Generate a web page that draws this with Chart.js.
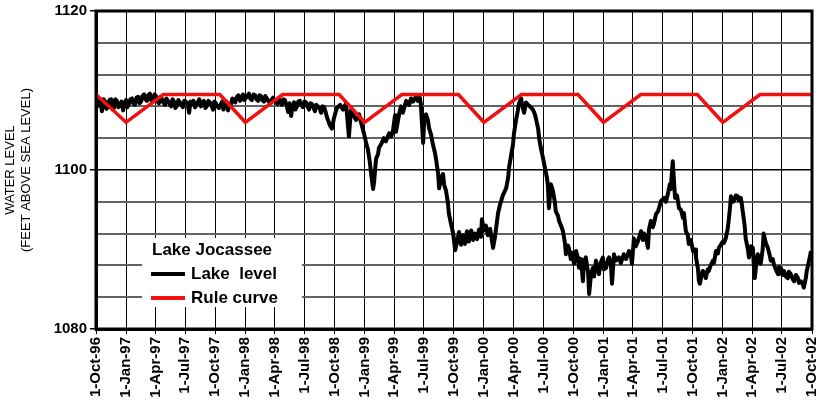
<!DOCTYPE html>
<html>
<head>
<meta charset="utf-8">
<script src="https://cdn.jsdelivr.net/npm/chart.js@4"></script>
<style>
  body { margin: 0; background: #fff; }
  #wrap { width: 824px; height: 406px; }
</style>
</head>
<body>
<div id="wrap"><canvas id="myChart"></canvas></div>
<script>
// x values are days counted from 1-Oct-96
const tickLabels = ['1-Oct-96', '1-Jan-97', '1-Apr-97', '1-Jul-97', '1-Oct-97', '1-Jan-98', '1-Apr-98', '1-Jul-98',
  '1-Oct-98', '1-Jan-99', '1-Apr-99', '1-Jul-99', '1-Oct-99', '1-Jan-00', '1-Apr-00', '1-Jul-00',
  '1-Oct-00', '1-Jan-01', '1-Apr-01', '1-Jul-01', '1-Oct-01', '1-Jan-02', '1-Apr-02', '1-Jul-02', '1-Oct-02']

const ruleDay = [0, 92, 206, 379, 457, 571, 744, 822, 936, 1109, 1187, 1302, 1475, 1553, 1667, 1840, 1918, 2032, 2191]
const ruleFt = [1109.5, 1106, 1109.5, 1109.5, 1106, 1109.5, 1109.5, 1106, 1109.5, 1109.5, 1106, 1109.5, 1109.5, 1106, 1109.5, 1109.5, 1106, 1109.5, 1109.5]

const levelDay = [0, 4, 9, 13, 18, 23, 28, 32, 37, 41, 46, 50, 55, 59, 64, 68, 73, 78, 83, 87,
  92, 96, 101, 105, 110, 114, 119, 124, 129, 133, 138, 142, 147, 151, 156, 160, 165, 169, 174, 179,
  184, 188, 193, 197, 202, 206, 211, 215, 220, 225, 230, 234, 239, 243, 248, 252, 257, 261, 266, 270,
  275, 280, 285, 289, 294, 298, 303, 307, 312, 316, 321, 325, 330, 335, 340, 344, 349, 353, 358, 362,
  367, 371, 376, 381, 386, 390, 395, 399, 404, 408, 413, 417, 422, 426, 431, 436, 441, 445, 450, 454,
  459, 463, 468, 472, 477, 482, 487, 491, 496, 500, 505, 509, 514, 518, 523, 527, 532, 537, 542, 546,
  551, 555, 560, 564, 569, 573, 578, 583, 588, 592, 597, 601, 606, 610, 615, 619, 624, 628, 633, 638,
  643, 647, 652, 656, 661, 665, 670, 674, 679, 684, 689, 693, 698, 702, 707, 716, 722,
  728, 737, 747, 756, 765, 774, 780, 789, 796, 805, 811, 820, 826, 832, 838, 841, 848, 851, 857, 863,
  866, 872, 881, 887, 897, 903, 909, 915, 918, 924, 930, 933, 939, 949, 958, 964, 970, 979, 985, 991,
  994, 1001, 1004, 1010, 1016, 1019, 1025, 1031, 1037, 1040, 1047, 1050, 1056, 1062, 1065, 1071, 1077, 1080, 1086, 1093,
  1099, 1105, 1111, 1117, 1123, 1129, 1135, 1141, 1148, 1154, 1160, 1166, 1172, 1178, 1181, 1187, 1193, 1199, 1206, 1212,
  1215, 1221, 1227, 1230, 1236, 1239, 1245, 1255, 1261, 1264, 1270, 1276, 1279, 1285, 1291, 1294, 1301, 1304, 1310, 1316,
  1322, 1328, 1337, 1343, 1346, 1353, 1356, 1362, 1368, 1374, 1380, 1383, 1386, 1392, 1398, 1404, 1407, 1414, 1417, 1423,
  1429, 1435, 1438, 1444, 1447, 1453, 1456, 1463, 1469, 1475, 1478, 1484, 1490, 1493, 1499, 1506, 1509, 1515, 1521, 1524,
  1530, 1536, 1539, 1545, 1551, 1554, 1561, 1567, 1570, 1576, 1579, 1585, 1591, 1600, 1606, 1615, 1622, 1631, 1637, 1640,
  1646, 1652, 1658, 1668, 1674, 1677, 1683, 1689, 1692, 1698, 1704, 1707, 1714, 1720, 1729, 1738, 1744, 1750, 1756, 1759,
  1762, 1765, 1768, 1772, 1778, 1784, 1790, 1796, 1799, 1805, 1811, 1814, 1820, 1827, 1833, 1836, 1842, 1845, 1848, 1854,
  1857, 1863, 1866, 1872, 1875, 1881, 1888, 1891, 1897, 1903, 1906, 1912, 1918, 1921, 1927, 1933, 1936, 1940, 1943, 1949,
  1952, 1958, 1964, 1967, 1973, 1976, 1979, 1985, 1988, 1995, 1998, 2004, 2010, 2013, 2016, 2022, 2025, 2031, 2034, 2040,
  2043, 2050, 2056, 2062, 2065, 2071, 2074, 2080, 2087, 2090, 2096, 2102, 2105, 2111, 2117, 2120, 2126, 2133, 2136, 2142,
  2148, 2151, 2157, 2163, 2166, 2172, 2175, 2182, 2188]

const levelFt = [1108.9, 1108.0, 1108.2, 1108.8, 1107.4, 1108.9, 1108.6, 1107.7, 1108.0, 1108.8, 1108.9, 1108.1, 1107.8, 1108.9, 1108.7, 1107.9, 1108.1, 1108.6, 1107.5, 1108.4,
  1108.8, 1107.9, 1108.3, 1108.9, 1109.0, 1108.4, 1108.2, 1109.1, 1109.2, 1108.4, 1108.6, 1109.3, 1109.5, 1108.9, 1108.7, 1109.4, 1109.6, 1108.8, 1108.9, 1109.5,
  1109.3, 1108.6, 1108.4, 1109.2, 1108.9, 1108.5, 1108.2, 1109.0, 1108.7, 1108.3, 1108.0, 1108.9, 1108.6, 1107.8, 1108.1, 1108.8, 1108.5, 1108.2, 1107.9, 1108.7,
  1108.6, 1108.4, 1107.2, 1108.6, 1108.3, 1108.7, 1107.9, 1108.2, 1108.6, 1108.9, 1108.0, 1108.4, 1108.7, 1107.8, 1108.1, 1108.7, 1108.5, 1108.2, 1107.6, 1108.6,
  1108.4, 1108.0, 1107.8, 1108.2, 1108.6, 1107.6, 1108.2, 1108.6, 1107.5, 1108.1, 1108.3, 1109.0, 1108.8, 1108.5, 1109.2, 1109.4, 1108.7, 1109.0, 1109.5, 1108.8,
  1109.1, 1109.3, 1109.6, 1109.0, 1108.8, 1109.5, 1109.4, 1108.9, 1108.7, 1109.4, 1109.3, 1108.8, 1108.6, 1109.3, 1109.0, 1108.7, 1108.4, 1108.8, 1109.1, 1108.7,
  1108.5, 1108.3, 1108.9, 1108.6, 1108.2, 1108.9, 1108.8, 1108.2, 1107.3, 1108.4, 1106.8, 1107.9, 1108.5, 1107.6, 1108.0, 1108.6, 1108.7, 1108.2, 1107.9, 1108.6,
  1108.5, 1108.0, 1107.6, 1108.4, 1108.3, 1107.9, 1107.4, 1108.2, 1108.0, 1107.8, 1107.2, 1108.0, 1107.9, 1107.4, 1106.6, 1105.6, 1105.2,
  1106.5, 1107.8, 1108.2, 1107.6, 1108.4, 1104.2, 1107.5, 1106.8, 1106.3, 1107.0, 1106.0, 1104.6, 1103.5, 1102.6, 1101.0, 1099.8, 1097.6, 1098.5, 1101.4, 1102.0,
  1102.8, 1103.2, 1104.0, 1103.6, 1104.6, 1104.2, 1105.0, 1106.9, 1104.8, 1106.2, 1107.5, 1108.0, 1107.2, 1108.7, 1108.2, 1109.0, 1108.6, 1109.2, 1108.7, 1109.1,
  1108.3, 1103.4, 1106.0, 1107.0, 1106.2, 1105.3, 1104.5, 1103.2, 1102.2, 1101.5, 1099.5, 1097.7, 1099.0, 1099.5, 1098.2, 1097.4, 1095.8, 1094.5, 1093.3, 1092.0,
  1089.9, 1091.0, 1092.2, 1090.6, 1091.8, 1090.7, 1092.3, 1091.0, 1092.4, 1091.2, 1092.0, 1091.3, 1092.5, 1091.6, 1093.8, 1092.4, 1093.0, 1091.8, 1092.6, 1091.0,
  1090.2, 1091.6, 1093.5, 1094.5, 1095.6, 1096.0, 1096.8, 1097.7, 1099.0, 1100.3, 1101.8, 1103.2, 1104.6, 1106.2, 1107.5, 1108.3, 1109.0, 1108.2, 1107.2, 1108.5,
  1108.2, 1108.0, 1107.6, 1107.0, 1106.5, 1105.2, 1104.0, 1102.6, 1101.5, 1100.2, 1099.0, 1098.0, 1095.2, 1098.2, 1097.4, 1096.0, 1094.8, 1094.2, 1093.6, 1093.0,
  1092.3, 1090.8, 1089.4, 1090.5, 1090.2, 1088.8, 1089.6, 1088.2, 1089.8, 1088.9, 1087.7, 1088.8, 1086.0, 1088.5, 1089.0, 1087.0, 1084.4, 1087.0, 1087.7, 1086.6,
  1088.6, 1087.4, 1086.9, 1088.4, 1089.0, 1087.5, 1087.7, 1088.8, 1089.0, 1088.0, 1085.7, 1089.4, 1088.6, 1089.0, 1088.3, 1089.4, 1088.8, 1089.8, 1089.2, 1088.2,
  1091.4, 1090.4, 1091.0, 1092.3, 1091.2, 1092.0, 1091.5, 1090.2, 1092.5, 1093.6, 1092.8, 1093.2, 1094.5, 1094.8, 1096.1, 1096.5, 1096.0, 1097.0, 1098.2, 1097.6,
  1099.5, 1101.1, 1099.0, 1096.5, 1096.8, 1095.2, 1095.0, 1094.0, 1094.6, 1092.3, 1091.8, 1090.7, 1091.2, 1089.8, 1090.0, 1089.0, 1087.6, 1086.0, 1085.7, 1087.0,
  1087.3, 1086.8, 1086.4, 1087.5, 1087.3, 1088.0, 1088.6, 1088.3, 1089.8, 1089.5, 1090.2, 1090.6, 1091.0, 1090.8, 1091.4, 1092.6, 1093.6, 1095.2, 1096.7, 1096.0,
  1096.1, 1096.8, 1096.7, 1096.2, 1096.5, 1095.8, 1094.8, 1093.0, 1091.4, 1090.0, 1089.0, 1090.4, 1090.2, 1088.0, 1086.4, 1088.8, 1089.4, 1088.6, 1088.2, 1090.0,
  1092.0, 1090.8, 1090.2, 1089.2, 1088.6, 1088.8, 1088.2, 1087.5, 1086.9, 1087.8, 1087.7, 1086.8, 1087.3, 1086.6, 1086.4, 1087.2, 1086.9, 1086.2, 1086.0, 1086.8,
  1086.4, 1085.8, 1086.0, 1085.6, 1085.2, 1086.4, 1087.3, 1088.6, 1089.8]

const monthIdx = { Jan: 0, Apr: 3, Jul: 6, Oct: 9 }
const labelToDay = (s) => {
  const [d, m, y] = s.split('-')
  const yr = +y < 50 ? 2000 + +y : 1900 + +y
  return Math.round((Date.UTC(yr, monthIdx[m], +d) - Date.UTC(1996, 9, 1)) / 864e5)
}
const tickDays = tickLabels.map(labelToDay)

const font = 'Liberation Sans, Arial, sans-serif'

// legend box and plot frame
const frameAndLegend = {
  id: 'frameAndLegend',
  afterDatasetsDraw(chart) {
    const { ctx, chartArea: a } = chart
    ctx.save()
    const bx = a.left + 46, by = a.bottom - 91
    ctx.fillStyle = '#fff'
    ctx.fillRect(bx, by, 160, 69)
    ctx.fillStyle = '#000'
    ctx.font = 'bold 17px ' + font
    ctx.textBaseline = 'middle'
    ctx.fillText('Lake Jocassee', bx + 10, by + 12)
    const items = chart.data.datasets.slice().reverse()
    items.forEach((ds, i) => {
      const yy = by + 36 + i * 24
      ctx.strokeStyle = ds.borderColor
      ctx.lineWidth = 4
      ctx.beginPath()
      ctx.moveTo(bx + 9, yy)
      ctx.lineTo(bx + 43, yy)
      ctx.stroke()
      ctx.fillText(ds.legendText, bx + 49, yy)
    })
    ctx.strokeStyle = '#000'
    ctx.lineWidth = 3
    ctx.strokeRect(a.left, a.top, a.right - a.left, a.bottom - a.top)
    ctx.restore()
  }
}

const ctx = document.getElementById('myChart').getContext('2d')
new Chart(ctx, {
  type: 'line',
  data: {
    datasets: [{
      label: 'Rule curve',
      legendText: 'Rule curve',
      data: ruleDay.map((d, i) => ({ x: d, y: ruleFt[i] })),
      borderColor: '#f01010',
      borderWidth: 3.5,
      pointRadius: 0,
      fill: false,
      tension: 0,
      order: 1
    }, {
      label: 'Lake level',
      legendText: 'Lake  level',
      data: levelDay.map((d, i) => ({ x: d, y: levelFt[i] })),
      borderColor: '#000',
      borderWidth: 4,
      borderJoinStyle: 'round',
      pointRadius: 0,
      fill: false,
      tension: 0,
      order: 2
    }]
  },
  options: {
    responsive: true,
    maintainAspectRatio: false,
    animation: false,
    layout: { padding: { left: 0, top: 11, right: 12, bottom: 0 } },
    scales: {
      x: {
        type: 'linear',
        min: 0,
        max: tickDays[tickDays.length - 1],
        afterBuildTicks: (scale) => { scale.ticks = tickDays.map(v => ({ value: v })) },
        afterFit: (scale) => {
          scale.height = 77
          scale.paddingLeft = 0
          scale.paddingRight = 0
        },
        ticks: {
          autoSkip: false,
          minRotation: 90,
          maxRotation: 90,
          padding: 3,
          color: '#000',
          font: { family: font, size: 15, weight: 'bold' },
          callback: (v, i) => tickLabels[i]
        },
        grid: { color: '#000', lineWidth: 1, tickLength: 5, tickColor: '#000' },
        border: { color: '#000', width: 3 }
      },
      y: {
        min: 1080,
        max: 1120,
        afterFit: (scale) => {
          scale.width = 96
          scale.paddingTop = 0
          scale.paddingBottom = 0
        },
        ticks: {
          stepSize: 2,
          padding: 3,
          color: '#000',
          font: { family: font, size: 15, weight: 'bold' },
          callback: (v) => (v % 10 === 0 ? String(v) : '')
        },
        grid: {
          color: (c) => (c.tick && c.tick.value % 10 === 0 ? '#000' : '#636363'),
          lineWidth: (c) => (c.tick && c.tick.value % 10 === 0 ? 1.5 : 2),
          tickLength: 6,
          tickColor: (c) => (c.tick && c.tick.value % 10 === 0 ? '#000' : 'rgba(0,0,0,0)')
        },
        border: { color: '#000', width: 3 },
        title: {
          display: true,
          text: ['WATER LEVEL', '(FEET ABOVE SEA LEVEL)'],
          color: '#000',
          font: { family: font, size: 13 },
          padding: { top: 3, bottom: 0 }
        }
      }
    },
    plugins: {
      legend: { display: false },
      tooltip: { enabled: false }
    }
  },
  plugins: [frameAndLegend]
})
</script>
</body>
</html>
